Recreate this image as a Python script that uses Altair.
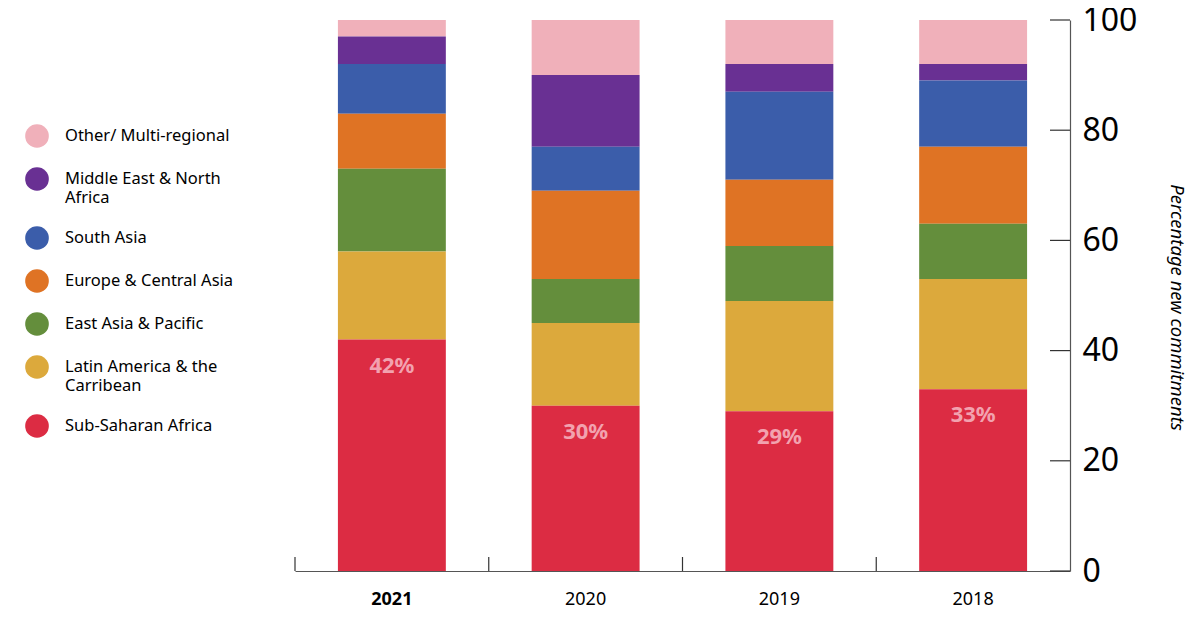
import altair as alt
import pandas as pd

years = ["2021", "2020", "2019", "2018"]
regions = [
    "Other/ Multi-regional",
    "Middle East & North Africa",
    "South Asia",
    "Europe & Central Asia",
    "East Asia & Pacific",
    "Latin America & the Carribean",
    "Sub-Saharan Africa",
]
region_colors = ["#f0b0ba", "#693093", "#3b5daa", "#df7324", "#648e3c", "#dca93c", "#dc2c43"]

other = [3, 10, 8, 8]
mena = [5, 13, 5, 3]
south_asia = [9, 8, 16, 12]
europe_ca = [10, 16, 12, 14]
east_asia = [15, 8, 10, 10]
latam = [16, 15, 20, 20]
ssa = [42, 30, 29, 33]

y_ticks = [0, 20, 40, 60, 80, 100]

series = [other, mena, south_asia, europe_ca, east_asia, latam, ssa]
rows = []
for r_i, (reg, vals) in enumerate(zip(regions, series)):
    for yr, v in zip(years, vals):
        rows.append({"year": yr, "region": reg, "value": v, "stack_idx": len(regions) - 1 - r_i})
df = pd.DataFrame(rows)

lab_df = pd.DataFrame({"year": years, "value": ssa, "label": [f"{v}%" for v in ssa]})
tick_df = pd.DataFrame({"year": years})
ytick_df = pd.DataFrame({"value": y_ticks})

W, H = 775, 551
FONT = "Noto Sans"

x_enc = alt.X(
    "year:N",
    sort=years,
    scale=alt.Scale(paddingInner=0, paddingOuter=0),
    axis=alt.Axis(
        title=None,
        ticks=False,
        labelAngle=0,
        labelFont=FONT,
        labelFontSize=18,
        labelColor="#000000",
        labelPadding=19,
        domainColor="#555555",
        domainWidth=1.2,
        labelFontWeight={"expr": "datum.value == '2021' ? 'bold' : 'normal'"},
    ),
)

y_scale = alt.Scale(domain=[0, 100], nice=False)
y_axis = alt.Axis(
    orient="right",
    values=y_ticks,
    grid=False,
    ticks=False,
    labelFont=FONT,
    labelFontSize=32,
    labelColor="#000000",
    labelPadding=12,
    domainColor="#555555",
    domainWidth=1.2,
    title="Percentage new commitments",
    titleFont=FONT,
    titleFontSize=18.5,
    titleFontStyle="italic",
    titleFontWeight="normal",
    titleColor="#000000",
    titleAngle=90,
    titleX=106,
    titleY=287,
    titleAlign="center",
    titleBaseline="middle",
)

bars = alt.Chart(df).mark_bar(width=alt.RelativeBandSize(0.557)).encode(
    x=x_enc,
    y=alt.Y("value:Q", stack="zero", scale=y_scale, axis=y_axis),
    color=alt.Color(
        "region:N",
        scale=alt.Scale(domain=regions, range=region_colors),
        legend=alt.Legend(
            orient="none",
            legendX=-270,
            legendY=104,
            title=None,
            symbolType="circle",
            symbolSize=560,
            symbolStrokeWidth=0,
            symbolOpacity=1,
            labelFont=FONT,
            labelFontSize=16.5,
            labelColor="#000000",
            labelOffset=16,
            rowPadding=19,
            labelLimit=300,
            labelExpr=(
                "datum.label == 'Middle East & North Africa' ? ['Middle East & North', 'Africa'] : "
                "datum.label == 'Latin America & the Carribean' ? ['Latin America & the', 'Carribean'] : datum.label"
            ),
        ),
    ),
    order=alt.Order("stack_idx:Q", sort="ascending"),
)

labels = alt.Chart(lab_df).mark_text(
    dy=26, baseline="middle", align="center", font=FONT, fontSize=22, fontWeight="bold", color="#f2a2af"
).encode(
    x=alt.X("year:N", sort=years),
    y=alt.Y("value:Q"),
    text="label:N",
)

xticks = alt.Chart(tick_df).mark_rule(color="#333333", strokeWidth=1.2).encode(
    x=alt.X("year:N", sort=years, bandPosition=0),
    y=alt.value(H),
    y2=alt.value(H - 14),
)

yticks = alt.Chart(ytick_df).mark_rule(color="#333333", strokeWidth=1.2).encode(
    y=alt.Y("value:Q"),
    x=alt.value(W - 20),
    x2=alt.value(W),
)

chart = alt.layer(bars, labels, xticks, yticks).properties(
    width=W,
    height=H,
    autosize=alt.AutoSizeParams(type="none"),
    padding={"left": 287, "top": 12, "right": 120, "bottom": 40},
).configure(
    style={"guide-label": {"lineHeight": 19}}
).configure_view(stroke=None)

chart.save("out.html", embed_options={"renderer": "svg", "actions": False})
